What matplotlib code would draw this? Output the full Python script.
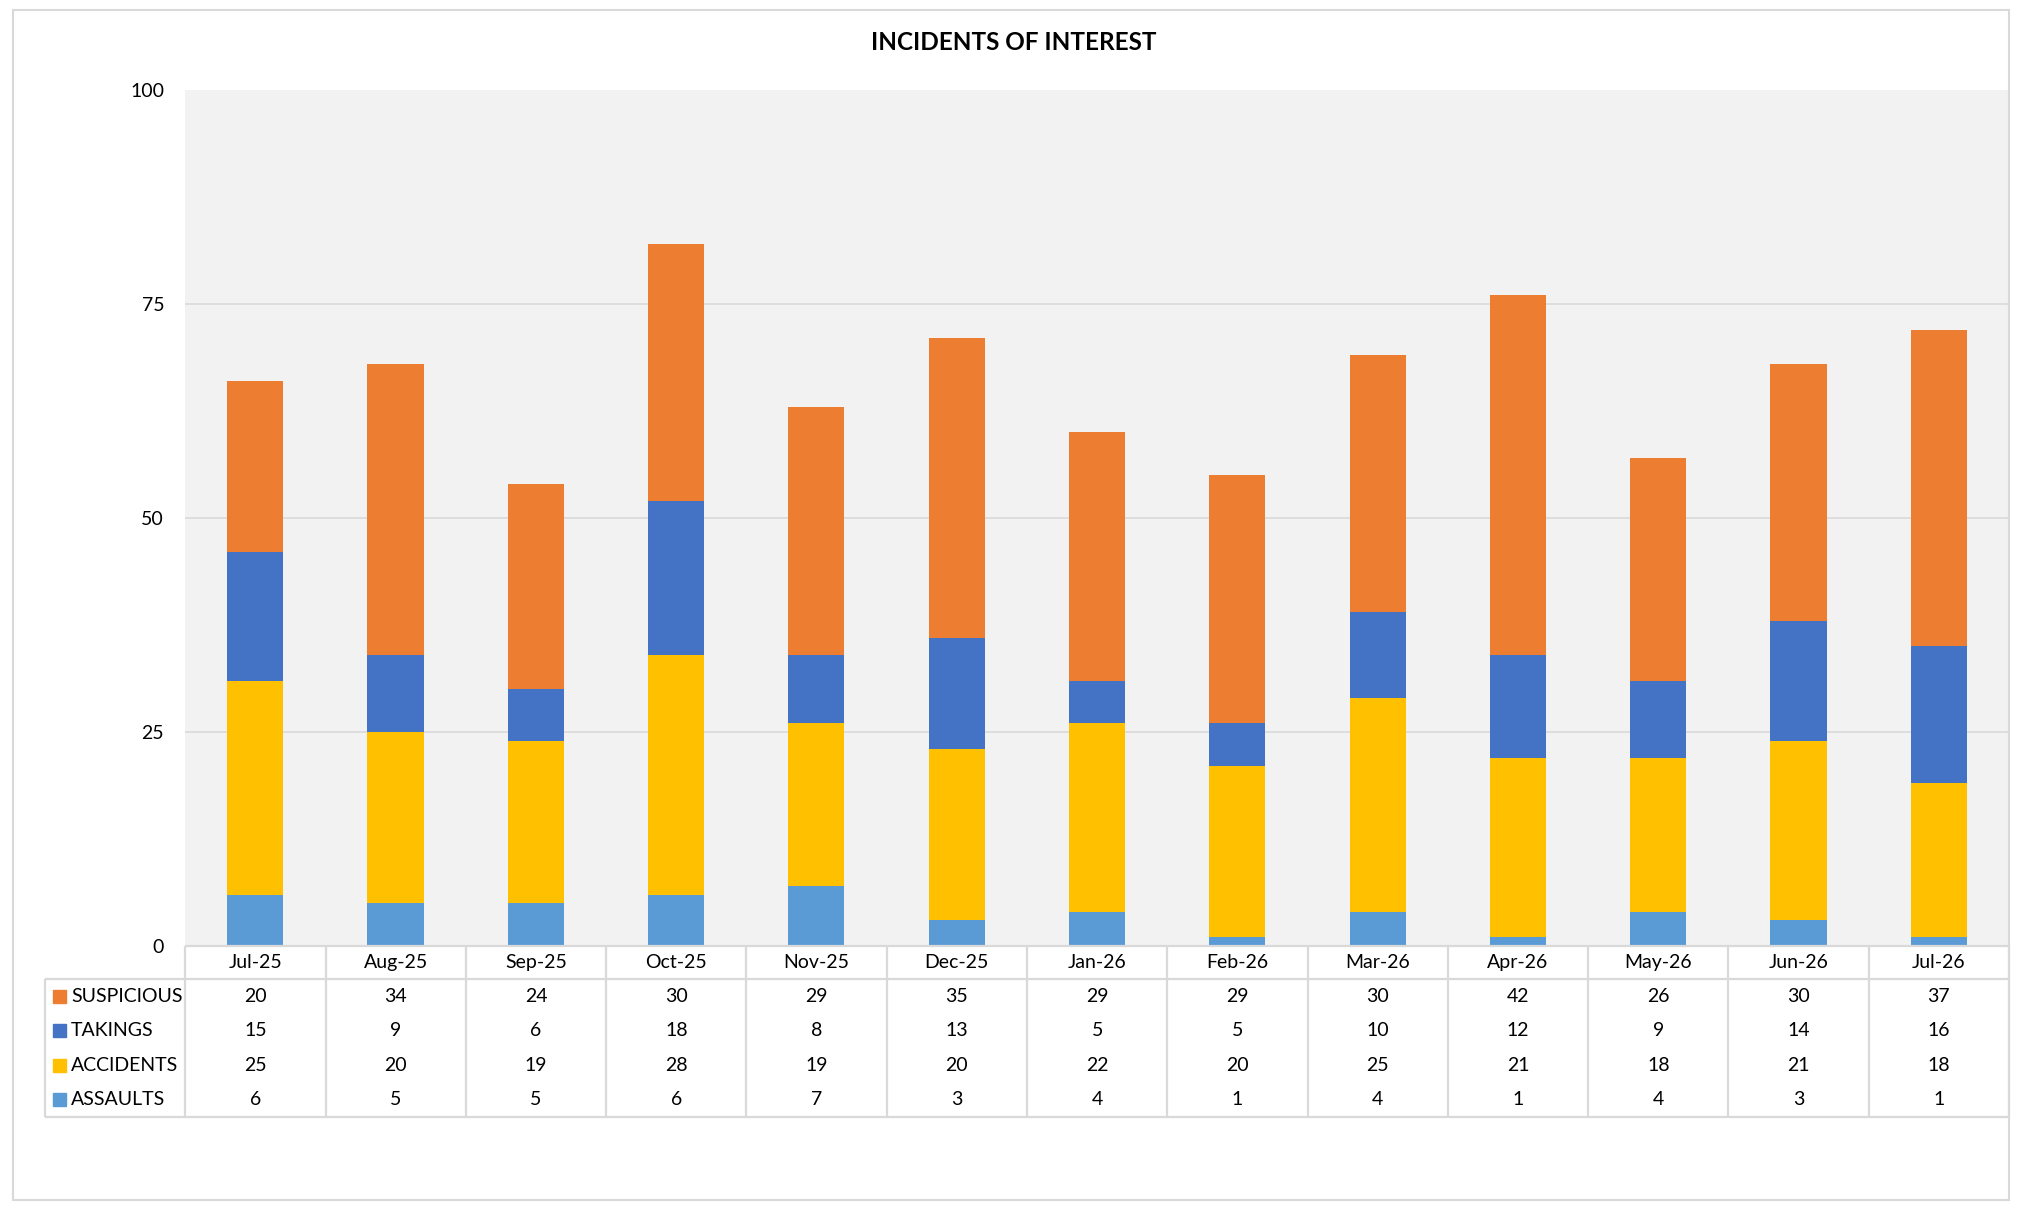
import numpy as np
import matplotlib.pyplot as plt
from matplotlib.patches import Rectangle

plt.rcParams['font.family'] = ['Lato', 'DejaVu Sans']

months = ['Jul-25', 'Aug-25', 'Sep-25', 'Oct-25', 'Nov-25', 'Dec-25', 'Jan-26',
          'Feb-26', 'Mar-26', 'Apr-26', 'May-26', 'Jun-26', 'Jul-26']
assaults = [6, 5, 5, 6, 7, 3, 4, 1, 4, 1, 4, 3, 1]
accidents = [25, 20, 19, 28, 19, 20, 22, 20, 25, 21, 18, 21, 18]
takings = [15, 9, 6, 18, 8, 13, 5, 5, 10, 12, 9, 14, 16]
suspicious = [20, 34, 24, 30, 29, 35, 29, 29, 30, 42, 26, 30, 37]

# stacking order bottom -> top
series = [('ASSAULTS', assaults, '#5B9BD5'),
          ('ACCIDENTS', accidents, '#FFC000'),
          ('TAKINGS', takings, '#4472C4'),
          ('SUSPICIOUS', suspicious, '#ED7D31')]

W, H = 2028, 1216
fs = 14
fig = plt.figure(figsize=(W / 100, H / 100), dpi=100)

# main plot area (pixel layout)
ax = fig.add_axes([185 / W, 1 - 946 / H, (2009 - 185) / W, (946 - 90) / H])
ax.set_facecolor('#F2F2F2')
x = np.arange(len(months))
bottom = np.zeros(len(months))
for name, vals, col in series:
    ax.bar(x, vals, 0.4, bottom=bottom, color=col, zorder=2)
    bottom += np.array(vals)

ax.set_xlim(-0.5, len(months) - 0.5)
ax.set_ylim(0, 100)
yt = [0, 25, 50, 75, 100]
ax.set_yticks(yt)
ax.set_yticklabels([str(v) for v in yt], fontsize=fs)
for v in yt[1:-1]:
    ax.axhline(v, color='#D9D9D9', lw=1.2, zorder=1)
ax.set_xticks([])
ax.tick_params(axis='y', length=0, pad=15)
for s in ax.spines.values():
    s.set_visible(False)

# data table below
tab = fig.add_axes([45 / W, 1 - 1117 / H, (2009 - 45) / W, (1117 - 946) / H])
tab.set_xlim(-1.5, len(months) - 0.5)
tab.set_ylim(171, 0)
tab.axis('off')
lc = '#D9D9D9'
lw = 1.6
n = len(months)
tab.hlines(0, -0.5, n - 0.5, color=lc, lw=lw, clip_on=False)
tab.hlines([33, 171], -1.5, n - 0.5, color=lc, lw=lw, clip_on=False)
tab.vlines(-1.5, 33, 171, color=lc, lw=lw, clip_on=False)
tab.vlines(np.arange(n + 1) - 0.5, 0, 171, color=lc, lw=lw, clip_on=False)

for i, m in enumerate(months):
    tab.text(i, 16.5, m, ha='center', va='center', fontsize=fs)

row_h = (171 - 33) / 4
for r, (name, vals, col) in enumerate(series[::-1]):
    yc = 33 + row_h * (r + 0.5)
    tab.add_patch(Rectangle((-1.5 + 8 / 140, yc - 6.5), 13 / 140, 13,
                            color=col, clip_on=False))
    tab.text(-1.5 + 26 / 140, yc, name, ha='left', va='center', fontsize=fs)
    for i, v in enumerate(vals):
        tab.text(i, yc, str(v), ha='center', va='center', fontsize=fs)

fig.text(0.5, 1 - 43 / H, 'INCIDENTS OF INTEREST', ha='center', va='center',
         fontsize=17.5, fontweight='bold')

fig.add_artist(Rectangle((13 / W, 1 - 1200 / H), (2009 - 13) / W, (1200 - 10) / H,
                         transform=fig.transFigure, fill=False, ec='#D9D9D9', lw=1.5))

fig.savefig('out.png', dpi=100)
